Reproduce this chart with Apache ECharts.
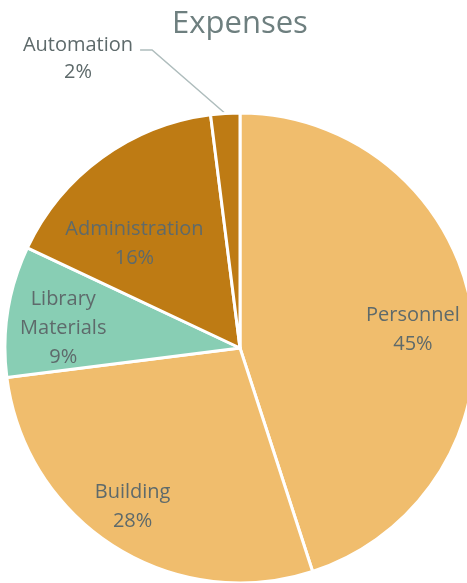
<!DOCTYPE html>
<html>
<head>
<meta charset="utf-8">
<script src="https://cdn.jsdelivr.net/npm/echarts@6/dist/echarts.min.js"></script>
<style>
  html, body { margin: 0; padding: 0; background: #fff; }
  #chart { width: 467px; height: 583px; }
</style>
</head>
<body>
<div id="chart"></div>
<script>
const categories = ['Personnel', 'Building', 'Library\nMaterials', 'Administration', 'Automation']
const values = [45, 28, 9, 16, 2]
const sliceColors = ['#F0BD6D', '#F0BD6D', '#88CEB4', '#BE7B14', '#BE7B14']
// inside labels: distance from centre (share of radius) and turn off the mid angle (deg)
const labelRatio = [0.74, 0.815, 0.757, 0.632, 0]
const labelTurn = [3, 1.7, -2.5, -9.3, 0]

const cx = 240
const cy = 348
const radius = 235

const chart = echarts.init(document.getElementById('chart'))

const option = {
  animation: false,
  title: {
    text: 'Expenses',
    left: 235,
    textAlign: 'center',
    top: 4,
    textStyle: {
      fontFamily: 'Open Sans',
      fontSize: 31,
      fontWeight: 'normal',
      color: '#6E7F7F'
    }
  },
  series: [
    {
      type: 'pie',
      center: [cx, cy],
      radius: radius,
      startAngle: 90,
      clockwise: true,
      itemStyle: {
        borderColor: '#fff',
        borderWidth: 3
      },
      label: {
        position: 'inside',
        formatter: '{b}\n{d}%',
        fontFamily: 'Open Sans',
        fontSize: 20,
        lineHeight: 29,
        color: '#5E6A6B'
      },
      labelLayout: function (params) {
        const i = params.dataIndex
        if (i === 4) return { x: 81.5, y: 50, align: 'center', verticalAlign: 'middle' }
        const r = params.labelRect
        const mx = r.x + r.width / 2
        const my = r.y + r.height / 2
        const ang = Math.atan2(mx - cx, -(my - cy)) + labelTurn[i] * Math.PI / 180
        const d = labelRatio[i] * radius
        const tx = cx + d * Math.sin(ang)
        const ty = cy - d * Math.cos(ang)
        return { dx: tx - mx, dy: ty - my }
      },
      labelLine: {
        lineStyle: { color: '#AFBDBD', width: 1.5 }
      },
      data: categories.map(function (name, i) {
        const item = {
          name: name,
          value: values[i],
          itemStyle: { color: sliceColors[i] }
        }
        if (i === 4) {
          item.label = {
            position: 'outside',
            padding: [0, 7, 0, 0],
            formatter: '{e| }\n{a|{b}}\n{a|{d}%}',
            rich: {
              e: { fontSize: 10, lineHeight: 18 },
              a: { fontFamily: 'Open Sans', fontSize: 20, lineHeight: 27, color: '#5E6A6B' }
            }
          }
          item.labelLine = { show: true, length: 60, length2: 12 }
        }
        return item
      })
    }
  ]
}

chart.setOption(option)
</script>
</body>
</html>
